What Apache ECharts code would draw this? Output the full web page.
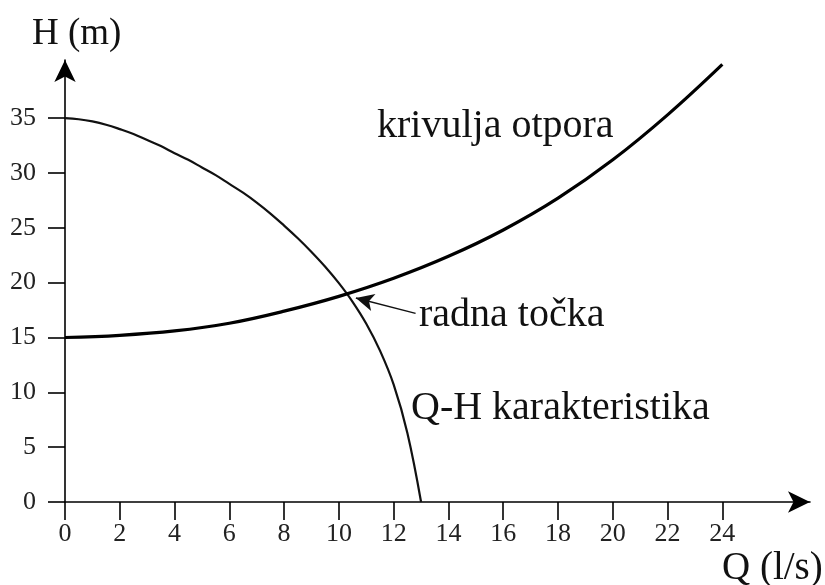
<!DOCTYPE html>
<html>
<head>
<meta charset="utf-8">
<script src="https://cdn.jsdelivr.net/npm/echarts@6/dist/echarts.min.js"></script>
<style>
  html, body { margin: 0; padding: 0; background: #fff; }
  #chart { width: 825px; height: 585px; }
</style>
</head>
<body>
<div id="chart"></div>
<script>
// Q-H karakteristika pumpe (korak 0.5 l/s)
const qhFlow = [0, 0.5, 1, 1.5, 2, 2.5, 3, 3.5, 4, 4.5, 5, 5.5, 6, 6.5, 7, 7.5, 8, 8.5, 9, 9.5, 10, 10.5, 11, 11.5, 12, 12.5, 13];
const qhHead = [35, 34.9, 34.7, 34.4, 34.0, 33.55, 33.0, 32.45, 31.8, 31.2, 30.5, 29.8, 29.0, 28.2, 27.3, 26.3, 25.2, 24.05, 22.8, 21.45, 19.95, 18.25, 16.25, 13.8, 10.7, 6.3, 0];
// krivulja otpora cjevovoda
const resFlow = [0, 2, 4, 6, 8, 10, 12, 14, 16, 18, 20, 22, 24];
const resHead = [15, 15.2, 15.6, 16.3, 17.4, 18.75, 20.4, 22.4, 24.8, 27.7, 31.2, 35.3, 39.9];
// oznake osi
const xTicks = [0, 2, 4, 6, 8, 10, 12, 14, 16, 18, 20, 22, 24];
const yTicks = [0, 5, 10, 15, 20, 25, 30, 35];
// strelica za radnu tocku (tip, rep)
const arrowTip = [10.62, 18.6];
const arrowTail = [12.8, 17.2];

const serif = '"Liberation Serif", "Times New Roman", serif';

let myChart = echarts.init(document.getElementById('chart'));

let option = {
    backgroundColor: '#fff',
    animation: false,
    grid: { left: 65, right: 15, top: 60, bottom: 83 },
    xAxis: {
        type: 'value',
        min: 0,
        max: 27.2,
        axisLine: {
            lineStyle: { color: '#000', width: 1.6 },
            symbol: ['none', 'arrow'],
            symbolSize: [16, 22]
        },
        axisTick: { show: true, length: 18, inside: false, customValues: xTicks, lineStyle: { color: '#000', width: 1.6 } },
        axisLabel: { customValues: xTicks, margin: 19, color: '#222', fontFamily: serif, fontSize: 26 },
        splitLine: { show: false }
    },
    yAxis: {
        type: 'value',
        min: 0,
        max: 40.3,
        axisLine: {
            show: true,
            lineStyle: { color: '#000', width: 1.6 },
            symbol: ['none', 'arrow'],
            symbolSize: [16, 22]
        },
        axisTick: { show: true, length: 17, inside: false, customValues: yTicks, lineStyle: { color: '#000', width: 1.6 } },
        axisLabel: { customValues: yTicks, margin: 29, color: '#222', fontFamily: serif, fontSize: 26 },
        splitLine: { show: false }
    },
    series: [
        {
            name: 'Q-H karakteristika',
            type: 'line',
            smooth: 0.4,
            showSymbol: false,
            lineStyle: { color: '#111', width: 2.2 },
            data: qhFlow.map((q, i) => [q, qhHead[i]])
        },
        {
            name: 'krivulja otpora',
            type: 'line',
            smooth: 0.4,
            showSymbol: false,
            lineStyle: { color: '#000', width: 3.2 },
            data: resFlow.map((q, i) => [q, resHead[i]]),
            markLine: {
                silent: true,
                symbol: ['none', 'arrow'],
                symbolSize: [13, 18],
                label: { show: false },
                lineStyle: { color: '#111', width: 1.5, type: 'solid' },
                data: [[{ coord: arrowTail }, { coord: arrowTip }]]
            }
        }
    ],
    graphic: [
        { type: 'text', left: 32, top: 16, style: { text: 'H (m)', font: '37px ' + serif, fill: '#111' } },
        { type: 'text', left: 722, top: 549, style: { text: 'Q (l/s)', font: '39px ' + serif, fill: '#111' } },
        { type: 'text', left: 377, top: 106, style: { text: 'krivulja otpora', font: '40px ' + serif, fill: '#111' } },
        { type: 'text', left: 419, top: 295, style: { text: 'radna točka', font: '40px ' + serif, fill: '#111' } },
        { type: 'text', left: 411, top: 388, style: { text: 'Q-H karakteristika', font: '40px ' + serif, fill: '#111' } }
    ]
};
myChart.setOption(option);
window.addEventListener('resize', function () {
    myChart.resize();
});
</script>
</body>
</html>
